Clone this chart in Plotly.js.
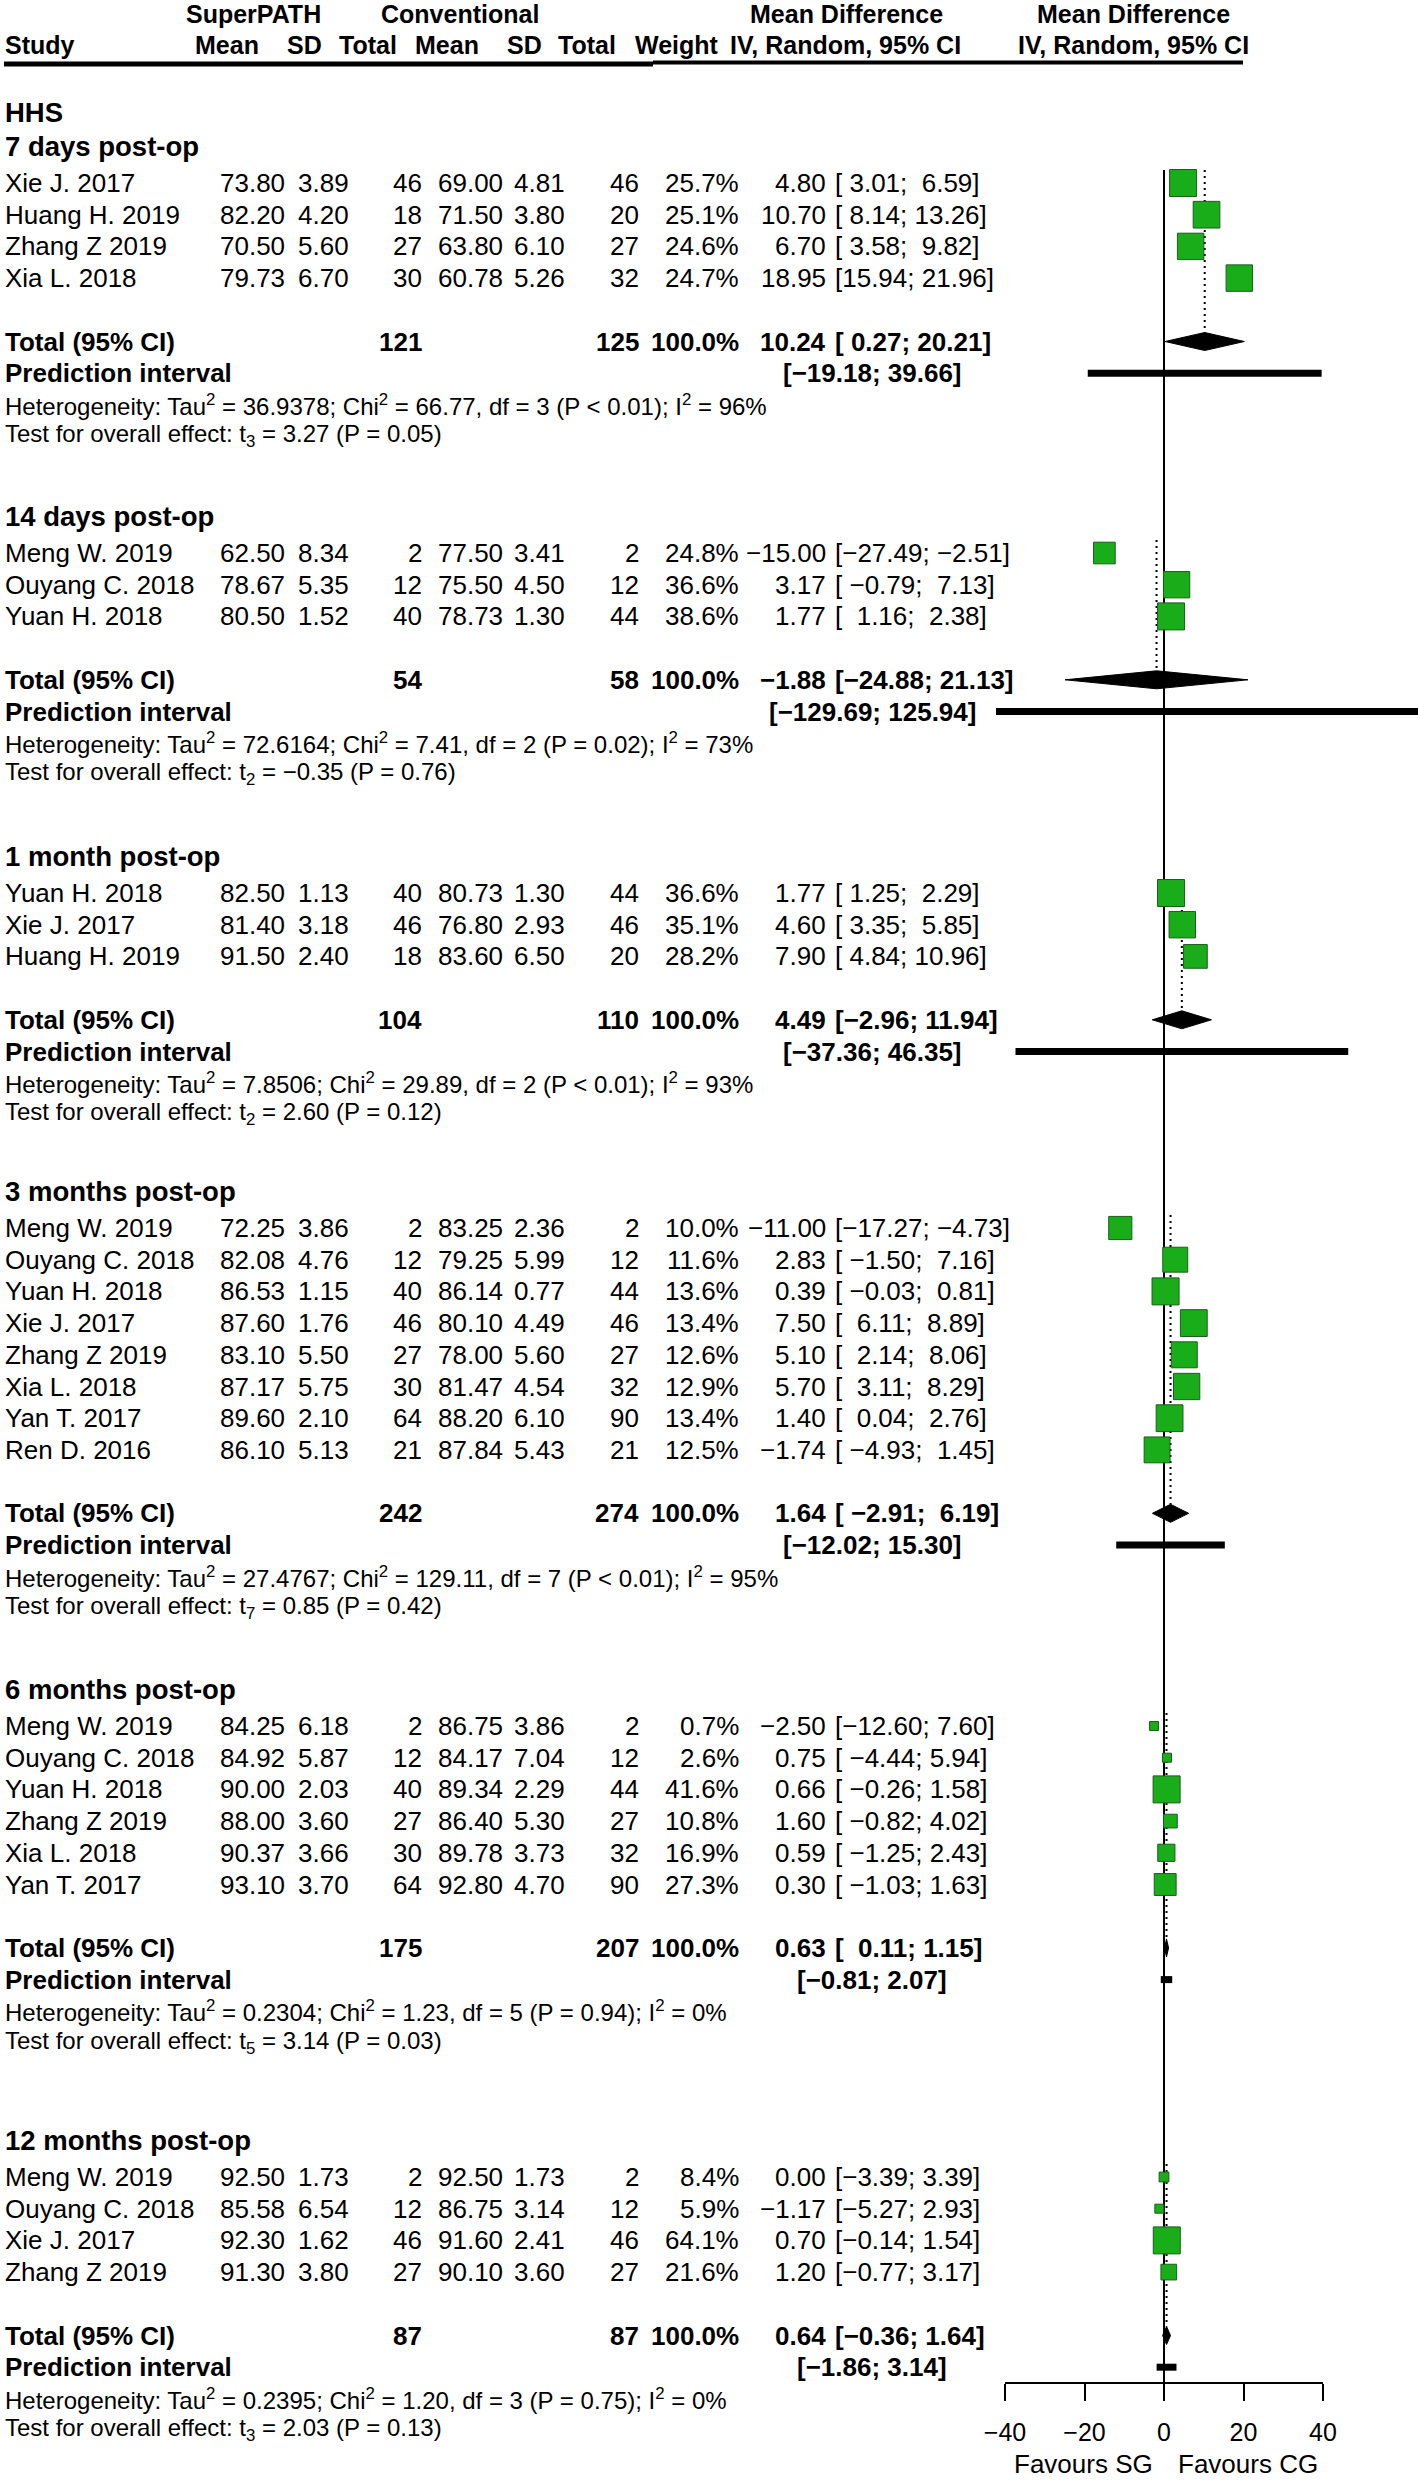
<!DOCTYPE html>
<html><head><meta charset="utf-8">
<script src="https://cdn.plot.ly/plotly-3.0.1.min.js"></script>
<style>html,body{margin:0;padding:0;background:#fff}</style>
</head><body><div id="chart" style="width:1418px;height:2484px"></div>
<script>
// ---------------- DATA ----------------
const outcome = "HHS";
const groupLabels = ["7 days post-op","14 days post-op","1 month post-op","3 months post-op","6 months post-op","12 months post-op"];
const studyNames = [
 ["Xie J. 2017","Huang H. 2019","Zhang Z 2019","Xia L. 2018"],
 ["Meng W. 2019","Ouyang C. 2018","Yuan H. 2018"],
 ["Yuan H. 2018","Xie J. 2017","Huang H. 2019"],
 ["Meng W. 2019","Ouyang C. 2018","Yuan H. 2018","Xie J. 2017","Zhang Z 2019","Xia L. 2018","Yan T. 2017","Ren D. 2016"],
 ["Meng W. 2019","Ouyang C. 2018","Yuan H. 2018","Zhang Z 2019","Xia L. 2018","Yan T. 2017"],
 ["Meng W. 2019","Ouyang C. 2018","Xie J. 2017","Zhang Z 2019"]
];
const spMean = [[73.80,82.20,70.50,79.73],[62.50,78.67,80.50],[82.50,81.40,91.50],[72.25,82.08,86.53,87.60,83.10,87.17,89.60,86.10],[84.25,84.92,90.00,88.00,90.37,93.10],[92.50,85.58,92.30,91.30]];
const spSD = [[3.89,4.20,5.60,6.70],[8.34,5.35,1.52],[1.13,3.18,2.40],[3.86,4.76,1.15,1.76,5.50,5.75,2.10,5.13],[6.18,5.87,2.03,3.60,3.66,3.70],[1.73,6.54,1.62,3.80]];
const spN = [[46,18,27,30],[2,12,40],[40,46,18],[2,12,40,46,27,30,64,21],[2,12,40,27,30,64],[2,12,46,27]];
const cgMean = [[69.00,71.50,63.80,60.78],[77.50,75.50,78.73],[80.73,76.80,83.60],[83.25,79.25,86.14,80.10,78.00,81.47,88.20,87.84],[86.75,84.17,89.34,86.40,89.78,92.80],[92.50,86.75,91.60,90.10]];
const cgSD = [[4.81,3.80,6.10,5.26],[3.41,4.50,1.30],[1.30,2.93,6.50],[2.36,5.99,0.77,4.49,5.60,4.54,6.10,5.43],[3.86,7.04,2.29,5.30,3.73,4.70],[1.73,3.14,2.41,3.60]];
const cgN = [[46,20,27,32],[2,12,44],[44,46,20],[2,12,44,46,27,32,90,21],[2,12,44,27,32,90],[2,12,46,27]];
const weightPct = [[25.7,25.1,24.6,24.7],[24.8,36.6,38.6],[36.6,35.1,28.2],[10.0,11.6,13.6,13.4,12.6,12.9,13.4,12.5],[0.7,2.6,41.6,10.8,16.9,27.3],[8.4,5.9,64.1,21.6]];
const md = [[4.80,10.70,6.70,18.95],[-15.00,3.17,1.77],[1.77,4.60,7.90],[-11.00,2.83,0.39,7.50,5.10,5.70,1.40,-1.74],[-2.50,0.75,0.66,1.60,0.59,0.30],[0.00,-1.17,0.70,1.20]];
const ciLow = [[3.01,8.14,3.58,15.94],[-27.49,-0.79,1.16],[1.25,3.35,4.84],[-17.27,-1.50,-0.03,6.11,2.14,3.11,0.04,-4.93],[-12.60,-4.44,-0.26,-0.82,-1.25,-1.03],[-3.39,-5.27,-0.14,-0.77]];
const ciHigh = [[6.59,13.26,9.82,21.96],[-2.51,7.13,2.38],[2.29,5.85,10.96],[-4.73,7.16,0.81,8.89,8.06,8.29,2.76,1.45],[7.60,5.94,1.58,4.02,2.43,1.63],[3.39,2.93,1.54,3.17]];
const totalSpN = [121,54,104,242,175,87];
const totalCgN = [125,58,110,274,207,87];
const pooledMD = [10.24,-1.88,4.49,1.64,0.63,0.64];
const pooledLow = [0.27,-24.88,-2.96,-2.91,0.11,-0.36];
const pooledHigh = [20.21,21.13,11.94,6.19,1.15,1.64];
const predLow = [-19.18,-129.69,-37.36,-12.02,-0.81,-1.86];
const predHigh = [39.66,125.94,46.35,15.30,2.07,3.14];
const tau2 = [36.9378,72.6164,7.8506,27.4767,0.2304,0.2395];
const chi2 = [66.77,7.41,29.89,129.11,1.23,1.20];
const hetDf = [3,2,2,7,5,3];
const hetP = ["< 0.01","= 0.02","< 0.01","< 0.01","= 0.94","= 0.75"];
const i2 = [96,73,93,95,0,0];
const tStat = [3.27,-0.35,2.60,0.85,3.14,2.03];
const effectP = [0.05,0.76,0.12,0.42,0.03,0.13];
const xTicks = [-40,-20,0,20,40];
const favourLabels = ["Favours SG","Favours CG"];

// ---------------- LAYOUT GEOMETRY ----------------
const W = 1418, H = 2484;
const FONT = "Liberation Sans, Arial, Helvetica, sans-serif";
const ROW = 31.7;
const firstStudyY = [183,553,893,1228,1726,2177];
const zeroX = 1164, pxPerUnit = 3.975, forestLeft = 996;
const axisY = 2383;
const xmin = (forestLeft - zeroX) / pxPerUnit, xmax = (W - zeroX) / pxPerUnit;
const col = {study:4, spMean:286, spSD:350, spN:423, cgMean:504, cgSD:566, cgN:640, weight:740, est:827, ci:834, pi:872};
const NB = "\u00a0";

function fmt(v, d){ return v.toFixed(d).replace("-", "\u2212"); }
function pad(s, w){ return NB.repeat(Math.max(0, w - s.length)) + s; }

const ann = [];
function txt(x, y, text, anchor, size, bold){
  ann.push({x: x / W, xref: "paper", y: y, yref: "y", text: bold ? "<b>" + text + "</b>" : text,
    showarrow: false, xanchor: anchor, yanchor: "middle", borderpad: 0,
    font: {family: FONT, size: size, color: "#000"}});
}

// header
txt(253, 14, "SuperPATH", "center", 25, true);
txt(460, 14, "Conventional", "center", 25, true);
txt(846, 14, "Mean Difference", "center", 25, true);
txt(1133, 14, "Mean Difference", "center", 25, true);
txt(4, 45, "Study", "left", 25, true);
txt(260, 45, "Mean", "right", 25, true);
txt(323, 45, "SD", "right", 25, true);
txt(398, 45, "Total", "right", 25, true);
txt(480, 45, "Mean", "right", 25, true);
txt(543, 45, "SD", "right", 25, true);
txt(617, 45, "Total", "right", 25, true);
txt(720, 45, "Weight", "right", 25, true);
txt(845, 45, "IV, Random, 95% CI", "center", 25, true);
txt(1133, 45, "IV, Random, 95% CI", "center", 25, true);
txt(4, 112, outcome, "left", 27.5, true);

// traces data
const sqX = [], sqY = [], sqS = [];
const dotX = [], dotY = [], diaX = [], diaY = [], piX = [], piY = [];

groupLabels.forEach((g, k) => {
  const s0 = firstStudyY[k];
  const n = studyNames[k].length;
  const totY = s0 + (n + 1) * ROW;
  txt(4, s0 - 37, g, "left", 27.5, true);

  const estS = md[k].map(v => fmt(v, 2)).concat([fmt(pooledMD[k], 2)]);
  const loS = ciLow[k].map(v => fmt(v, 2)).concat([fmt(pooledLow[k], 2)]);
  const hiS = ciHigh[k].map(v => fmt(v, 2)).concat([fmt(pooledHigh[k], 2)]);
  const lW = Math.max(...loS.map(s => s.length));
  const hW = Math.max(...hiS.map(s => s.length));
  const ciStr = i => "[" + pad(loS[i], lW) + ";" + NB + pad(hiS[i], hW) + "]";

  const wmax = Math.max(...weightPct[k]);
  studyNames[k].forEach((name, i) => {
    const y = s0 + i * ROW;
    txt(col.study, y, name, "left", 26, false);
    txt(col.spMean, y, spMean[k][i].toFixed(2), "right", 26, false);
    txt(col.spSD, y, spSD[k][i].toFixed(2), "right", 26, false);
    txt(col.spN, y, String(spN[k][i]), "right", 26, false);
    txt(col.cgMean, y, cgMean[k][i].toFixed(2), "right", 26, false);
    txt(col.cgSD, y, cgSD[k][i].toFixed(2), "right", 26, false);
    txt(col.cgN, y, String(cgN[k][i]), "right", 26, false);
    txt(col.weight, y, weightPct[k][i].toFixed(1) + "%", "right", 26, false);
    txt(col.est, y, estS[i], "right", 26, false);
    txt(col.ci, y, ciStr(i), "left", 26, false);
    sqX.push(md[k][i]); sqY.push(y);
    sqS.push(Math.max(9, 27 * Math.sqrt(weightPct[k][i] / wmax)));
  });

  // totals
  txt(col.study, totY, "Total (95% CI)", "left", 26, true);
  txt(col.spN, totY, String(totalSpN[k]), "right", 26, true);
  txt(col.cgN, totY, String(totalCgN[k]), "right", 26, true);
  txt(col.weight, totY, "100.0%", "right", 26, true);
  txt(col.est, totY, estS[n], "right", 26, true);
  txt(col.ci, totY, ciStr(n), "left", 26, true);
  // prediction
  txt(col.study, totY + ROW, "Prediction interval", "left", 26, true);
  txt(col.pi, totY + ROW, "[" + fmt(predLow[k], 2) + ";" + NB + fmt(predHigh[k], 2) + "]", "center", 26, true);
  // heterogeneity + test
  txt(col.study, totY + 2 * ROW,
    "Heterogeneity: Tau<sup>2</sup> = " + tau2[k].toFixed(4) + "; Chi<sup>2</sup> = " + chi2[k].toFixed(2) +
    ", df = " + hetDf[k] + " (P " + hetP[k] + "); I<sup>2</sup> = " + i2[k] + "%", "left", 24, false);
  txt(col.study, totY + 3 * ROW - 1,
    "Test for overall effect: t<sub>" + hetDf[k] + "</sub> = " + fmt(tStat[k], 2) + " (P = " + effectP[k].toFixed(2) + ")",
    "left", 24, false);

  // forest geometry
  dotX.push(pooledMD[k], pooledMD[k], null); dotY.push(s0 - 13, totY - 9, null);
  diaX.push(pooledLow[k], pooledMD[k], pooledHigh[k], pooledMD[k], pooledLow[k], null);
  diaY.push(totY, totY - 9, totY, totY + 9, totY, null);
  piX.push(predLow[k], predHigh[k], null); piY.push(totY + ROW, totY + ROW, null);
});

txt(1083, 2464, favourLabels[0], "center", 26, false);
txt(1248, 2464, favourLabels[1], "center", 26, false);

const traces = [
  {x: [0, 0], y: [170, axisY], mode: "lines", line: {color: "#000", width: 2}, hoverinfo: "skip"},
  {x: [xTicks[0], xTicks[xTicks.length - 1]], y: [axisY, axisY], mode: "lines", line: {color: "#000", width: 2}, hoverinfo: "skip"},
  {x: dotX, y: dotY, mode: "lines", line: {color: "#000", width: 2, dash: "2px,4px"}, hoverinfo: "skip"},
  {x: diaX, y: diaY, mode: "lines", fill: "toself", fillcolor: "#000", line: {color: "#000", width: 1}, hoverinfo: "skip"},
  {x: piX, y: piY, mode: "lines", line: {color: "#000", width: 7}, hoverinfo: "skip"},
  {x: sqX, y: sqY, mode: "markers", marker: {symbol: "square", size: sqS, color: "#19ad19", opacity: 1, line: {color: "#1b5e1b", width: 1}}, hoverinfo: "skip"}
];

const layout = {
  width: W, height: H, margin: {l: 0, r: 0, t: 0, b: 0},
  paper_bgcolor: "#fff", plot_bgcolor: "rgba(0,0,0,0)", showlegend: false,
  font: {family: FONT, color: "#000"},
  xaxis: {domain: [forestLeft / W, 1], range: [xmin, xmax], anchor: "free", position: (H - axisY) / H,
    tickvals: xTicks, ticks: "outside", ticklen: 17, tickwidth: 2, tickcolor: "#000",
    showline: false, showgrid: false, zeroline: false, ticklabelstandoff: 10,
    tickfont: {family: FONT, size: 25, color: "#000"}, fixedrange: true},
  yaxis: {domain: [0, 1], range: [H, 0], visible: false, fixedrange: true},
  annotations: ann,
  shapes: [
    {type: "line", xref: "paper", yref: "y", x0: 4 / W, x1: 653 / W, y0: 64, y1: 64, line: {color: "#000", width: 5}},
    {type: "line", xref: "paper", yref: "y", x0: 653 / W, x1: 1243 / W, y0: 62.5, y1: 62.5, line: {color: "#000", width: 4}}
  ]
};
Plotly.newPlot("chart", traces, layout, {staticPlot: true, displayModeBar: false});
</script></body></html>
